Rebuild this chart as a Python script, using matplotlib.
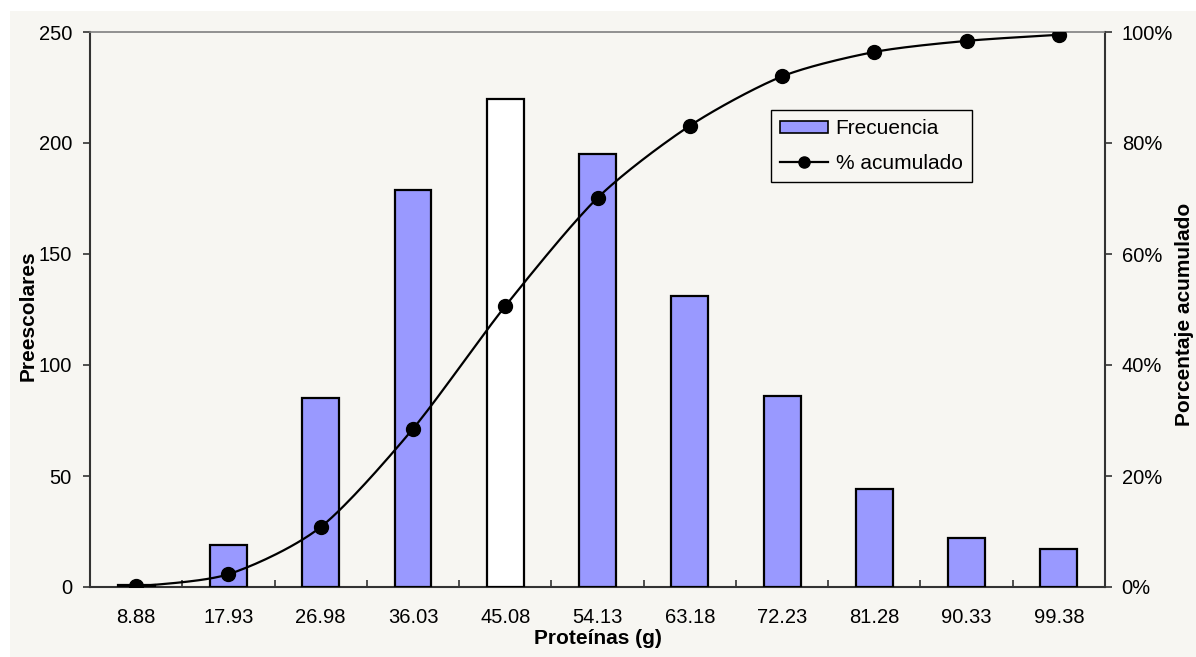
import numpy as np
import matplotlib
matplotlib.use("Agg")
import matplotlib.pyplot as plt
from matplotlib.patches import Rectangle, Patch
from matplotlib.lines import Line2D

plt.rcParams['font.family'] = ['Liberation Sans', 'DejaVu Sans']

# Class marks (g of protein) and counts of preschoolers per class
clases = ["8.88", "17.93", "26.98", "36.03", "45.08", "54.13",
          "63.18", "72.23", "81.28", "90.33", "99.38"]
frecuencia = [1, 19, 85, 179, 220, 195, 131, 86, 44, 22, 17]
# Cumulative percentage at each class
pct_acumulado = [0.1, 2.3, 10.8, 28.5, 50.6, 70.1, 83.1, 92.0, 96.4, 98.4, 99.5]

BG = "#F7F6F2"
BAR = "#9999FF"
W, H = 1196, 657

fig = plt.figure(figsize=(W / 100, H / 100), dpi=100, facecolor="white")
bg = Rectangle((10 / W, 0), 1 - 10 / W, 1 - 11 / H,
               transform=fig.transFigure, facecolor=BG,
               edgecolor="none", zorder=-10)
fig.add_artist(bg)

left, right, top, bottom = 90, 1105, 32, 587
ax = fig.add_axes([left / W, 1 - bottom / H, (right - left) / W, (bottom - top) / H])
ax.set_facecolor(BG)

x = np.arange(len(clases))
colors = [BAR] * len(clases)
colors[4] = "white"
ax.bar(x, frecuencia, width=0.4, color=colors, edgecolor="black",
       linewidth=1.6, zorder=3)

ax.set_xlim(-0.5, len(clases) - 0.5)
ax.set_ylim(0, 250)
ax.set_yticks(np.arange(0, 251, 50))
ax.set_xticks(x)
ax.set_xticklabels(clases)
ax.set_xticks(np.arange(-0.5, len(clases), 1.0), minor=True)
ax.tick_params(axis="x", which="major", length=0, pad=15, labelsize=14.5)
ax.tick_params(axis="x", which="minor", direction="in", length=5, width=1.2,
               color="#333333")
ax.tick_params(axis="y", direction="out", length=5, width=1.2, color="#333333",
               pad=8, labelsize=14.5)

for s in ("left", "bottom", "right"):
    ax.spines[s].set_color("#333333")
    ax.spines[s].set_linewidth(1.5)
ax.spines["top"].set_color("#808080")
ax.spines["top"].set_linewidth(1.2)

# Axis titles
fig.text(598 / W, 1 - 638 / H, "Proteínas (g)", fontsize=15, fontweight="bold",
         ha="center", va="center")
fig.text(28 / W, 1 - 316 / H, "Preescolares", fontsize=15, fontweight="bold",
         ha="center", va="center", rotation=90)
fig.text(1185 / W, 1 - 314 / H, "Porcentaje acumulado", fontsize=15,
         fontweight="bold", ha="center", va="center", rotation=90)

# Cumulative percentage on a secondary axis, drawn as a smoothed curve
ax2 = ax.twinx()
ax2.set_ylim(0, 1)
ax2.patch.set_visible(False)
ax2.set_yticks(np.arange(0, 1.01, 0.2))
ax2.set_yticklabels([f"{int(round(v * 100))}%" for v in np.arange(0, 1.01, 0.2)])
ax2.tick_params(axis="y", direction="out", length=5, width=1.2, color="#333333",
                pad=7, labelsize=14.5)
for s in ax2.spines.values():
    s.set_visible(False)


def smooth_path(xs, ys, n=30, tension=0.8):
    """Cubic Bezier smoothing through the points (Catmull-Rom style)."""
    P = np.column_stack([xs, ys]).astype(float)
    ext = np.vstack([P[0], P, P[-1]])
    out = [P[0]]
    t = np.linspace(0, 1, n)[1:, None]
    k = tension / 6
    for i in range(len(P) - 1):
        p0, p1, p2, p3 = ext[i], ext[i + 1], ext[i + 2], ext[i + 3]
        c1 = p1 + (p2 - p0) * k
        c2 = p2 - (p3 - p1) * k
        seg = ((1 - t) ** 3) * p1 + 3 * ((1 - t) ** 2) * t * c1 \
            + 3 * (1 - t) * t ** 2 * c2 + t ** 3 * p2
        out.extend(seg)
    out = np.array(out)
    return out[:, 0], out[:, 1]


yc = np.array(pct_acumulado) / 100
sx, sy = smooth_path(x, yc)
ax2.plot(sx, sy, color="black", linewidth=1.6, zorder=4)
ax2.plot(x, yc, linestyle="none", marker="o", markersize=10,
         color="black", zorder=5)

handles = [Patch(facecolor=BAR, edgecolor="black", linewidth=1.2),
           Line2D([0], [0], color="black", linewidth=1.6, marker="o",
                  markersize=8)]
leg = ax2.legend(handles, ["Frecuencia", "% acumulado"], loc="upper left",
                 bbox_to_anchor=(771 / W, 1 - 110 / H),
                 bbox_transform=fig.transFigure, frameon=True, fancybox=False,
                 fontsize=15, handlelength=2.3, handleheight=0.45,
                 handletextpad=0.35, borderpad=0.45, labelspacing=0.75,
                 borderaxespad=0)
leg.get_frame().set_edgecolor("black")
leg.get_frame().set_linewidth(1.0)
leg.get_frame().set_facecolor(BG)
leg.get_frame().set_alpha(1)

fig.savefig("out.png", dpi=100, facecolor="white")
